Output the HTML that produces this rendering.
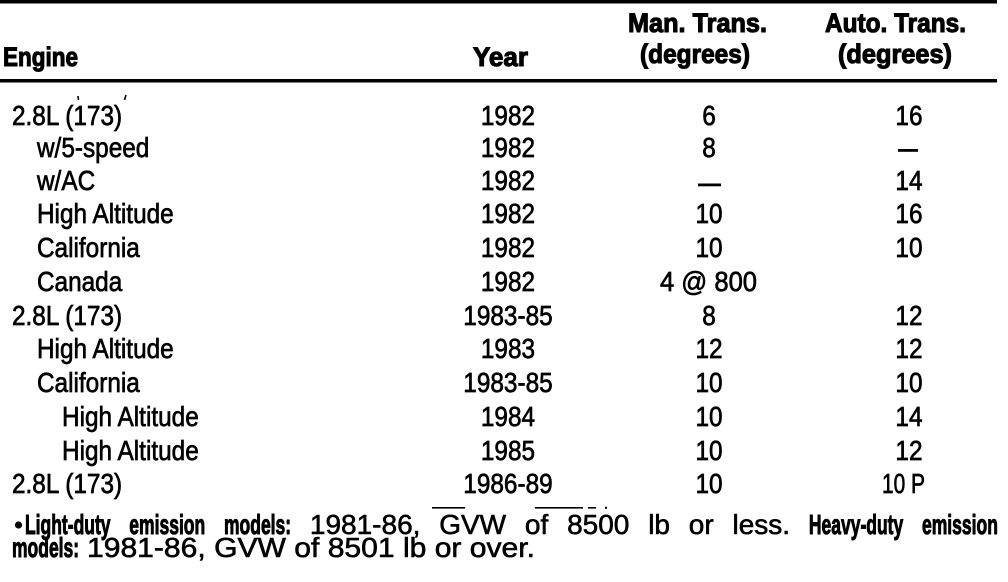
<!DOCTYPE html>
<html>
<head>
<meta charset="utf-8">
<style>
  html, body { margin:0; padding:0; background:#fff; }
  svg { display:block; }
  text { fill:#000; }
</style>
</head>
<body>
<svg width="1008" height="582" viewBox="0 0 1008 582" xmlns="http://www.w3.org/2000/svg">
  <rect x="0" y="0" width="1008" height="582" fill="#fff"/>
  <!-- rules -->
  <rect x="0" y="0" width="997" height="3.5" fill="#000"/>
  <rect x="0" y="79" width="997" height="3.5" fill="#000"/>

  <!-- header -->
  <g font-family="Liberation Sans, sans-serif" font-size="27" font-weight="bold" stroke="#000" stroke-width="1.1">
    <text x="3" y="66" textLength="75" lengthAdjust="spacingAndGlyphs">Engine</text>
    <text x="473" y="66" textLength="55" lengthAdjust="spacingAndGlyphs">Year</text>
    <text x="628" y="32" textLength="139" lengthAdjust="spacingAndGlyphs">Man. Trans.</text>
    <text x="640" y="63" textLength="110" lengthAdjust="spacingAndGlyphs">(degrees)</text>
    <text x="825" y="32" textLength="141" lengthAdjust="spacingAndGlyphs">Auto. Trans.</text>
    <text x="838" y="63" textLength="114" lengthAdjust="spacingAndGlyphs">(degrees)</text>
  </g>

  <!-- data rows -->
  <g transform="scale(0.87,1)" font-family="Liberation Sans, sans-serif" font-size="28" stroke="#000" stroke-width="0.7">
    <text x="13.8" y="125">2.8L (173)</text>
    <text x="583.9" y="125" text-anchor="middle">1982</text>
    <text x="815" y="125" text-anchor="middle">6</text>
    <text x="1044.8" y="125" text-anchor="middle">16</text>

    <text x="42.5" y="157">w/5-speed</text>
    <text x="583.9" y="157" text-anchor="middle">1982</text>
    <text x="815" y="157" text-anchor="middle">8</text>

    <text x="42.5" y="190">w/AC</text>
    <text x="583.9" y="190" text-anchor="middle">1982</text>
    <text x="1044.8" y="190" text-anchor="middle">14</text>

    <text x="42.5" y="223">High Altitude</text>
    <text x="583.9" y="223" text-anchor="middle">1982</text>
    <text x="815" y="223" text-anchor="middle">10</text>
    <text x="1044.8" y="223" text-anchor="middle">16</text>

    <text x="42.5" y="257">California</text>
    <text x="583.9" y="257" text-anchor="middle">1982</text>
    <text x="815" y="257" text-anchor="middle">10</text>
    <text x="1044.8" y="257" text-anchor="middle">10</text>

    <text x="42.5" y="291">Canada</text>
    <text x="583.9" y="291" text-anchor="middle">1982</text>

    <text x="13.8" y="325">2.8L (173)</text>
    <text x="583.9" y="325" text-anchor="middle">1983-85</text>
    <text x="815" y="325" text-anchor="middle">8</text>
    <text x="1044.8" y="325" text-anchor="middle">12</text>

    <text x="42.5" y="358">High Altitude</text>
    <text x="583.9" y="358" text-anchor="middle">1983</text>
    <text x="815" y="358" text-anchor="middle">12</text>
    <text x="1044.8" y="358" text-anchor="middle">12</text>

    <text x="42.5" y="392">California</text>
    <text x="583.9" y="392" text-anchor="middle">1983-85</text>
    <text x="815" y="392" text-anchor="middle">10</text>
    <text x="1044.8" y="392" text-anchor="middle">10</text>

    <text x="71.3" y="426">High Altitude</text>
    <text x="583.9" y="426" text-anchor="middle">1984</text>
    <text x="815" y="426" text-anchor="middle">10</text>
    <text x="1044.8" y="426" text-anchor="middle">14</text>

    <text x="71.3" y="460">High Altitude</text>
    <text x="583.9" y="460" text-anchor="middle">1985</text>
    <text x="815" y="460" text-anchor="middle">10</text>
    <text x="1044.8" y="460" text-anchor="middle">12</text>

    <text x="13.8" y="493">2.8L (173)</text>
    <text x="583.9" y="493" text-anchor="middle">1986-89</text>
    <text x="815" y="493" text-anchor="middle">10</text>
  </g>
  <g font-family="Liberation Sans, sans-serif" font-size="28" stroke="#000" stroke-width="0.7">
    <text x="660" y="291" textLength="97" lengthAdjust="spacingAndGlyphs">4 @ 800</text>
    <text x="882" y="493" textLength="43" lengthAdjust="spacingAndGlyphs">10 P</text>
  </g>

  <!-- em dashes -->
  <rect x="898" y="149" width="20" height="2.8" fill="#000"/>
  <rect x="698" y="183.5" width="23" height="2.8" fill="#000"/>

  <!-- small scan marks row 1 -->
  <line x1="78" y1="96" x2="78.5" y2="100" stroke="#000" stroke-width="1.6"/>
  <line x1="126" y1="95" x2="124.5" y2="100" stroke="#000" stroke-width="1.6"/>

  <!-- stray marks above footnote -->
  <rect x="432" y="507" width="33" height="1.6" fill="#000"/>
  <rect x="535" y="507" width="48" height="1.6" fill="#000"/>
  <rect x="588" y="507" width="8" height="1.6" fill="#000"/>
  <rect x="605" y="506.8" width="2" height="2" fill="#000"/>

  <!-- footnote -->
  <circle cx="18.5" cy="525" r="3.6" fill="#000"/>
  <g font-family="Liberation Sans, sans-serif">
    <g font-size="28" font-weight="bold" stroke="#000" stroke-width="1">
      <text x="25" y="534" textLength="85.5" lengthAdjust="spacingAndGlyphs">Light-duty</text>
      <text x="129.3" y="534" textLength="75.9" lengthAdjust="spacingAndGlyphs">emission</text>
      <text x="224" y="534" textLength="67.1" lengthAdjust="spacingAndGlyphs">models:</text>
      <text x="808.9" y="534" textLength="94.3" lengthAdjust="spacingAndGlyphs">Heavy-duty</text>
      <text x="922" y="534" textLength="75.9" lengthAdjust="spacingAndGlyphs">emission</text>
    </g>
    <g font-size="28" stroke="#000" stroke-width="0.6">
      <text x="309.9" y="534">1981-86,</text>
      <text x="439.2" y="534">GVW</text>
      <text x="524.9" y="534">of</text>
      <text x="567.1" y="534">8500</text>
      <text x="648.2" y="534">lb</text>
      <text x="688.8" y="534">or</text>
      <text x="732.5" y="534">less.</text>
    </g>
    <text x="12" y="557" font-size="28" font-weight="bold" stroke="#000" stroke-width="1" textLength="67.1" lengthAdjust="spacingAndGlyphs">models:</text>
    <text x="87" y="557" font-size="28" stroke="#000" stroke-width="0.6" textLength="448" lengthAdjust="spacingAndGlyphs">1981-86, GVW of 8501 lb or over.</text>
  </g>
</svg>
</body>
</html>
